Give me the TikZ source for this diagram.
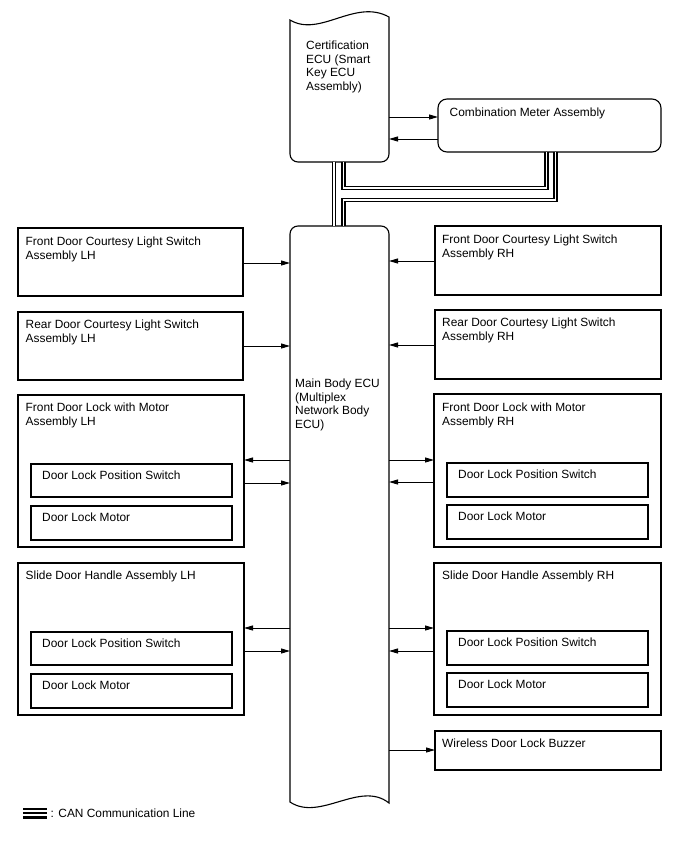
\documentclass[tikz,border=0pt]{standalone}
\usepackage{fontspec}
\setmainfont{Liberation Sans}
\usetikzlibrary{arrows.meta}
\begin{document}
\begin{tikzpicture}[x=1pt,y=-1pt,
  box/.style={draw, line width=1.1pt, anchor=north west, inner sep=0pt, outer sep=0pt},
  ghost/.style={anchor=north west, inner sep=0pt, outer sep=0pt},
  lbl/.style={anchor=north west, inner sep=0pt, align=left, font=\fontsize{11.9}{13.8}\selectfont},
  arr/.style={line width=0.9pt, -{Triangle[length=9pt,width=5pt]}},
  can/.style={draw, line width=1.8pt, double=white, double distance=1.2pt},
  outline/.style={draw, line width=1.1pt}]
\useasboundingbox (0,0) rectangle (688,852);

% Certification ECU
\node[ghost, minimum width=99pt, minimum height=146pt] (cert) at (290,16) {};
\draw[outline] (290,20) .. controls (320,38) and (355,-2) .. (389,17)
  [rounded corners=8pt] -- (389,162) -- (290,162) [sharp corners] -- cycle;
\node[lbl] (certt) at (306,40.5) {Certification\\ECU (Smart\\Key ECU\\Assembly)};

% Combination meter
\node[box, rounded corners=9pt, minimum width=223pt, minimum height=53pt] (meter) at (438,99) {};
\node[lbl] (metert) at (449.5,107.5) {Combination Meter Assembly};

% Main Body ECU
\node[ghost, minimum width=99pt, minimum height=580pt] (main) at (290,226) {};
\draw[outline] (290,802) [rounded corners=8pt] -- (290,226) -- (389,226) [sharp corners] -- (389,803)
  .. controls (360,780) and (320,822) .. (290,802) -- cycle;
\node[lbl] (maint) at (295,378.5) {Main Body ECU\\(Multiplex\\Network Body\\ECU)};

% Left boxes
\node[box, minimum width=225pt, minimum height=68pt] (L1) at (18,228) {};
\node[lbl] (L1t) at (25.5,236.5) {Front Door Courtesy Light Switch\\Assembly LH};
\node[box, minimum width=225pt, minimum height=68pt] (L2) at (18,312) {};
\node[lbl] (L2t) at (25.5,320) {Rear Door Courtesy Light Switch\\Assembly LH};
\node[box, minimum width=226pt, minimum height=152pt] (L3) at (18,395) {};
\node[lbl] (L3t) at (25.5,403) {Front Door Lock with Motor\\Assembly LH};
\node[box, minimum width=201pt, minimum height=33pt] (L3a) at (31,464) {};
\node[lbl] (L3at) at (42,470.5) {Door Lock Position Switch};
\node[box, minimum width=201pt, minimum height=34pt] (L3b) at (31,506) {};
\node[lbl] (L3bt) at (42,513) {Door Lock Motor};
\node[box, minimum width=226pt, minimum height=152pt] (L4) at (18,563) {};
\node[lbl] (L4t) at (25.5,571) {Slide Door Handle Assembly LH};
\node[box, minimum width=201pt, minimum height=33pt] (L4a) at (31,632) {};
\node[lbl] (L4at) at (42,638.5) {Door Lock Position Switch};
\node[box, minimum width=201pt, minimum height=34pt] (L4b) at (31,674) {};
\node[lbl] (L4bt) at (42,681) {Door Lock Motor};

% Right boxes
\node[box, minimum width=226pt, minimum height=69pt] (R1) at (435,226) {};
\node[lbl] (R1t) at (442,234.5) {Front Door Courtesy Light Switch\\Assembly RH};
\node[box, minimum width=226pt, minimum height=69pt] (R2) at (435,310) {};
\node[lbl] (R2t) at (442,318) {Rear Door Courtesy Light Switch\\Assembly RH};
\node[box, minimum width=227pt, minimum height=153pt] (R3) at (434,394) {};
\node[lbl] (R3t) at (442,402.5) {Front Door Lock with Motor\\Assembly RH};
\node[box, minimum width=201pt, minimum height=34pt] (R3a) at (447,463) {};
\node[lbl] (R3at) at (458,470) {Door Lock Position Switch};
\node[box, minimum width=201pt, minimum height=34pt] (R3b) at (447,505) {};
\node[lbl] (R3bt) at (458,511.5) {Door Lock Motor};
\node[box, minimum width=227pt, minimum height=152pt] (R4) at (434,563) {};
\node[lbl] (R4t) at (442,571) {Slide Door Handle Assembly RH};
\node[box, minimum width=201pt, minimum height=34pt] (R4a) at (447,631) {};
\node[lbl] (R4at) at (458,638) {Door Lock Position Switch};
\node[box, minimum width=201pt, minimum height=34pt] (R4b) at (447,673) {};
\node[lbl] (R4bt) at (458,680) {Door Lock Motor};
\node[box, minimum width=226pt, minimum height=39pt] (buz) at (435,731) {};
\node[lbl] (buzt) at (442,739) {Wireless Door Lock Buzzer};

% Arrows cert <-> meter
\draw[arr] (cert.east |- 0,117) -- (meter.west |- 0,117);
\draw[arr] (meter.west |- 0,139) -- (cert.east |- 0,139);

% Left arrows
\draw[arr] (L1.east |- 0,263) -- (main.west |- 0,263);
\draw[arr] (L2.east |- 0,346) -- (main.west |- 0,346);
\draw[arr] (main.west |- 0,460) -- (L3.east |- 0,460);
\draw[arr] (L3.east |- 0,483) -- (main.west |- 0,483);
\draw[arr] (main.west |- 0,628) -- (L4.east |- 0,628);
\draw[arr] (L4.east |- 0,651) -- (main.west |- 0,651);

% Right arrows
\draw[arr] (R1.west |- 0,261) -- (main.east |- 0,261);
\draw[arr] (R2.west |- 0,345) -- (main.east |- 0,345);
\draw[arr] (main.east |- 0,460) -- (R3.west |- 0,460);
\draw[arr] (R3.west |- 0,482) -- (main.east |- 0,482);
\draw[arr] (main.east |- 0,628) -- (R4.west |- 0,628);
\draw[arr] (R4.west |- 0,651) -- (main.east |- 0,651);
\draw[arr] (main.east |- 0,750) -- (buz.west |- 0,750);

% CAN lines
\draw[can] (334,0 |- cert.south) -- (334,0 |- main.north);
\draw[can] (343.5,0 |- cert.south) -- (343.5,188) -- (546.5,188) -- (546.5,0 |- meter.south);
\draw[can] (555.5,0 |- meter.south) -- (555.5,200) -- (343.5,200) -- (343.5,0 |- main.north);

% Legend
\draw[line width=1.3pt] (23,809) -- (46.5,809);
\draw[line width=1.3pt] (23,813) -- (46.5,813);
\draw[line width=2.3pt] (23,817.5) -- (46.5,817.5);
\node[lbl] (legt) at (50.5,808.5) {: CAN Communication Line};
\end{tikzpicture}
\end{document}
